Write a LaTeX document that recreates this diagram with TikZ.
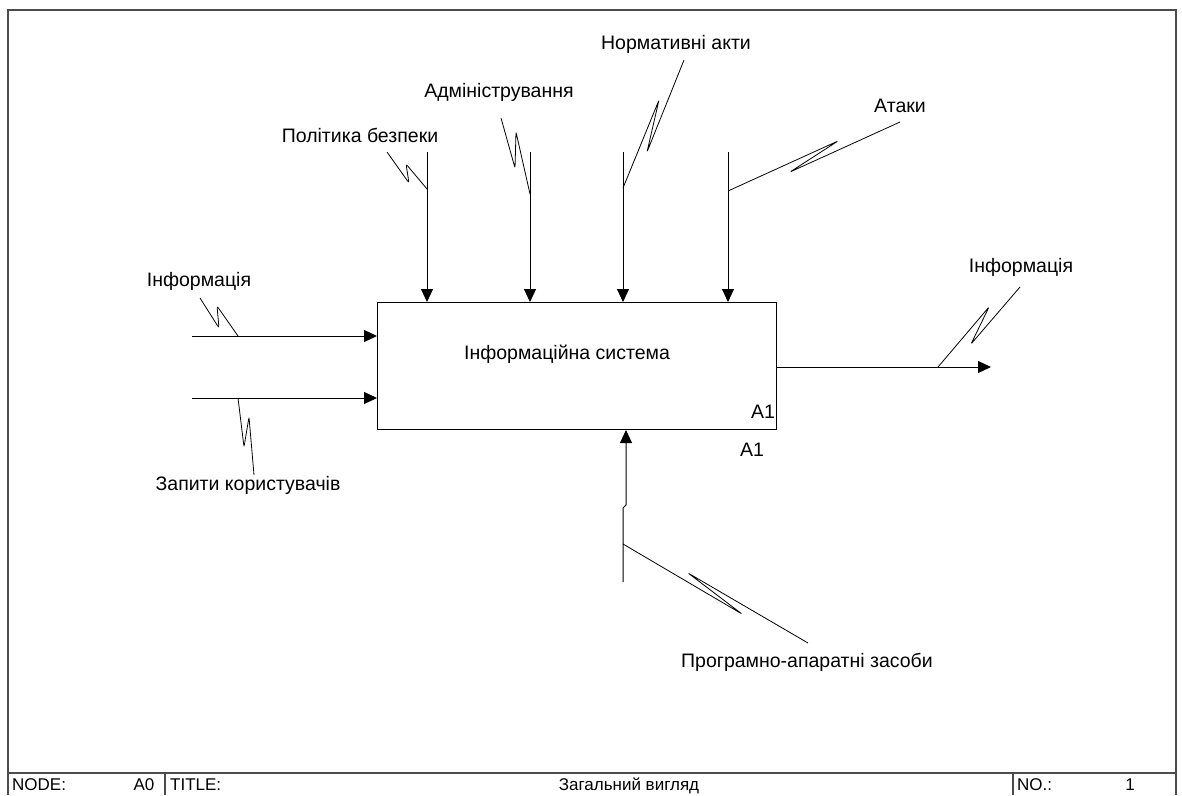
\documentclass[tikz,border=0pt]{standalone}
\usepackage{fontspec}
\setmainfont{Liberation Sans}
\usetikzlibrary{arrows.meta}
\begin{document}
\begin{tikzpicture}[x=1pt,y=-1pt,
  lbl/.style={font=\fontsize{19.5}{22}\selectfont, inner sep=0pt},
  foot/.style={font=\fontsize{17}{19}\selectfont, inner sep=0pt, anchor=base west},
  flow/.style={line width=1pt, -{Triangle[length=13pt,width=12pt]}},
  squig/.style={line width=0.8pt, rounded corners=1.2pt},
  wavy/.style={line width=0.8pt, rounded corners=2.5pt},
  sheet/.style={line width=1.5pt, draw=black!70}]
\useasboundingbox (0,0) rectangle (1182,795);

% sheet frame and title block
\draw[sheet] (8,795) -- (8,10) -- (1176,10) -- (1176,795);
\draw[sheet] (8,773) -- (1176,773);
\draw[sheet] (165,773) -- (165,795);
\draw[sheet] (1013,773) -- (1013,795);
\node[foot] (fnode) at (12,790) {NODE:};
\node[foot, anchor=base] (fa0) at (144,790) {A0};
\node[foot] (ftitle) at (170,790) {TITLE:};
\node[foot, anchor=base] (fname) at (629,790) {Загальний вигляд};
\node[foot] (fno) at (1017,790) {NO.:};
\node[foot, anchor=base] (fnum) at (1130,790) {1};

% activity box
\node[draw, line width=1pt, minimum width=399pt, minimum height=127pt,
      anchor=north west, inner sep=0pt] (sys) at (377,302) {};
\node[lbl] (systxt) at (567,354) {Інформаційна система};
\node[lbl] (boxid) at (763,412) {A1};
\node[lbl] (boxno) at (752,450) {A1};

% inputs
\coordinate (in1) at (192,336);
\coordinate (in2) at (192,398);
\draw[flow] (in1) -- (in1 -| sys.west);
\draw[flow] (in2) -- (in2 -| sys.west);

% controls
\coordinate (c1) at (427,152);
\coordinate (c2) at (530,152);
\coordinate (c3) at (623,152);
\coordinate (c4) at (728,152);
\foreach \c in {c1,c2,c3,c4} \draw[flow] (\c) -- (\c |- sys.north);

% output
\coordinate (out) at (991,367);
\draw[flow] (sys.east |- out) -- (out);

% mechanism
\coordinate (m0) at (623,582);
\coordinate (mj1) at (623,508);
\coordinate (mj2) at (626,505);
\draw[flow] (m0) -- (mj1) -- (mj2) -- (mj2 |- sys.south);

% labels
\node[lbl] (lpol) at (360,135) {Політика безпеки};
\node[lbl] (ladm) at (499,92) {Адміністрування};
\node[lbl] (lnorm) at (676,44) {Нормативні акти};
\node[lbl] (latt) at (900,106) {Атаки};
\node[lbl] (linfo) at (199,281) {Інформація};
\node[lbl] (lreq) at (248,485) {Запити користувачів};
\node[lbl] (lout) at (1021,267) {Інформація};
\node[lbl] (lmech) at (807,662) {Програмно-апаратні засоби};

% squiggles tying labels to their arrows
\draw[wavy] (387,152) -- (409,183) -- (406,164) -- (427,189);
\draw[wavy] (501,118) -- (515,168) -- (516,132) -- (530,194);
\draw[squig] (684,60) -- (647,152) -- (659,100) -- (623,188);
\draw[squig] (900,122) -- (790,172) -- (838,141) -- (728,191);
\draw[wavy] (200,298) -- (219,328) -- (217,306) -- (238,336);
\draw[wavy] (238,398) -- (244,447) -- (249,417) -- (254,475);
\draw[squig] (1020,287) -- (971,344) -- (989,307) -- (938,367);
\draw[squig] (623,544) -- (742,614) -- (688,573) -- (808,643);
\end{tikzpicture}
\end{document}
